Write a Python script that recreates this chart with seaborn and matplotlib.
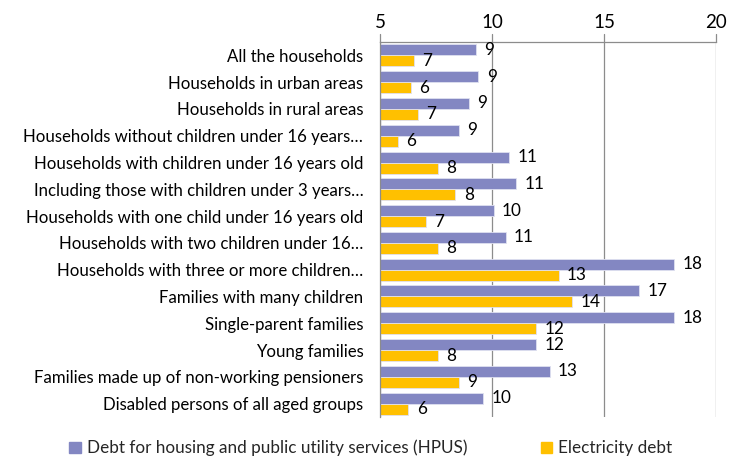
import matplotlib
matplotlib.use("Agg")
import matplotlib.pyplot as plt
import seaborn as sns
import pandas as pd
import numpy as np

categories = [
    "All the households",
    "Households in urban areas",
    "Households in rural areas",
    "Households without children under 16 years…",
    "Households with children under 16 years old",
    "Including those with children under 3 years…",
    "Households with one child under 16 years old",
    "Households with two children under 16…",
    "Households with three or more children…",
    "Families with many children",
    "Single-parent families",
    "Young families",
    "Families made up of non-working pensioners",
    "Disabled persons of all aged groups",
]
hpus_debt = [9.28, 9.39, 8.97, 8.52, 10.76, 11.07, 10.07, 10.61, 18.12, 16.58, 18.12, 11.97, 12.57, 9.6]
electricity_debt = [6.52, 6.37, 6.69, 5.79, 7.6, 8.37, 7.06, 7.6, 12.98, 13.57, 11.97, 7.6, 8.52, 6.27]
series_names = ["Debt for housing and public utility services (HPUS)", "Electricity debt"]
x_ticks = [5, 10, 15, 20]

colors = ["#8387C2", "#FFC000"]

df = pd.DataFrame({
    "category": categories * 2,
    "value": hpus_debt + electricity_debt,
    "series": [series_names[0]] * len(categories) + [series_names[1]] * len(categories),
})

sns.set_style("white")
plt.rcParams["font.family"] = ["Lato", "DejaVu Sans"]

fig = plt.figure(figsize=(7.31, 4.61), dpi=100)
ax = fig.add_axes([380 / 731, 1 - 417 / 461, (716 - 380) / 731, (417 - 42) / 461])

sns.barplot(data=df, y="category", x="value", hue="series", order=categories,
            hue_order=series_names, palette=colors, saturation=1, orient="h", width=0.82,
            edgecolor="#dfe0f0", linewidth=0.6, ax=ax, legend=False)

ax.set_xlim(5, 20)
ax.set_xticks(x_ticks)
ax.xaxis.tick_top()
ax.tick_params(axis="x", which="major", length=0, pad=8, labelsize=13.5, colors="#000000")
ax.grid(axis="x", color="#8c8c8c", linewidth=0.9)
ax.set_axisbelow(True)
ax.set_xlabel("")
ax.set_ylabel("")

ax.set_ylim(len(categories) - 0.5, -0.5)
ax.set_yticks(range(len(categories)))
ax.set_yticklabels(categories)
ax.tick_params(axis="y", which="major", length=0, pad=12, labelsize=12.1, colors="#000000")
ax.set_yticks(np.arange(-0.5, len(categories), 1), minor=True)
ax.tick_params(axis="y", which="minor", length=6, color="#8c8c8c", width=0.9)

for side in ["right", "bottom"]:
    ax.spines[side].set_visible(False)
for side in ["top", "left"]:
    ax.spines[side].set_color("#8c8c8c")
    ax.spines[side].set_linewidth(0.9)

for xt in x_ticks:
    ax.plot([xt, xt], [-0.5, -0.8], color="#8c8c8c", linewidth=0.9, clip_on=False)

for cont in ax.containers:
    ax.bar_label(cont, fmt="%.0f", padding=6, fontsize=12.3, color="#000000")

handles = [plt.Rectangle((0, 0), 1, 1, color=c) for c in colors]
fig.legend(handles, series_names, loc="center", bbox_to_anchor=(371 / 731, 1 - 448 / 461),
           ncol=2, frameon=False, fontsize=12.3, handlelength=0.65, handleheight=0.65,
           handletextpad=0.35, columnspacing=4.35)

fig.savefig("out.png", dpi=100)
